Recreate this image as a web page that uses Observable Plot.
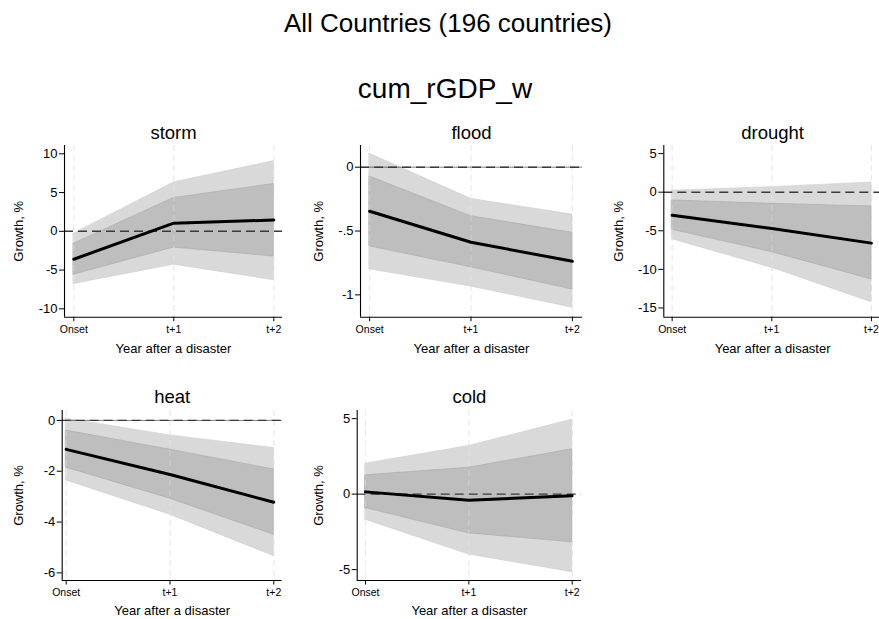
<!DOCTYPE html>
<html>
<head>
<meta charset="utf-8">
<script src="https://cdn.jsdelivr.net/npm/d3@7"></script>
<script src="https://cdn.jsdelivr.net/npm/@observablehq/plot@0.6"></script>
<style>
  html, body { margin: 0; padding: 0; background: #fff; }
  #page { position: relative; width: 879px; height: 619px; overflow: hidden; background: #fff;
          font-family: "Liberation Sans", Arial, Helvetica, sans-serif; color: #000; }
  .title { position: absolute; left: 0; text-align: center; line-height: 1; white-space: nowrap; }
  .panel { position: absolute; }
  .panel svg { max-width: none !important; display: block; }
  .panel g[aria-label="y-axis tick label"] { font-size: 13px; }
  .panel g[aria-label="x-axis tick label"] { font-size: 10.5px; }
</style>
</head>
<body>
<div id="page">
  <div class="title" style="top:10px; width:896px; font-size:26px;">All Countries (196 countries)</div>
  <div class="title" style="top:75px; width:890px; font-size:28px;">cum_rGDP_w</div>
</div>
<script>
// Horizon after the disaster
const periods = ["Onset", "t+1", "t+2"];

// Point estimates and confidence bands (growth, %), one set per hazard
const stormMean   = [-3.6, 1.05, 1.45];
const stormLoIn   = [-5.6, -2.1, -3.25];
const stormHiIn   = [-1.6, 4.3, 6.1];
const stormLoOut  = [-6.8, -4.3, -6.3];
const stormHiOut  = [-0.3, 6.3, 9.05];

const floodMean   = [-0.345, -0.588, -0.737];
const floodLoIn   = [-0.62, -0.784, -0.958];
const floodHiIn   = [-0.073, -0.384, -0.514];
const floodLoOut  = [-0.80, -0.935, -1.10];
const floodHiOut  = [0.105, -0.248, -0.371];

const droughtMean  = [-3.0, -4.7, -6.6];
const droughtLoIn  = [-4.87, -7.77, -11.3];
const droughtHiIn  = [-1.07, -1.5, -1.85];
const droughtLoOut = [-6.1, -9.8, -14.25];
const droughtHiOut = [0.2, 0.65, 1.26];

const heatMean    = [-1.14, -2.13, -3.22];
const heatLoIn    = [-1.86, -3.08, -4.5];
const heatHiIn    = [-0.4, -1.15, -1.93];
const heatLoOut   = [-2.36, -3.71, -5.34];
const heatHiOut   = [0.07, -0.59, -1.09];

const coldMean    = [0.15, -0.4, -0.11];
const coldLoIn    = [-0.92, -2.6, -3.19];
const coldHiIn    = [1.25, 1.75, 2.97];
const coldLoOut   = [-1.7, -4.0, -5.17];
const coldHiOut   = [2.02, 3.19, 4.93];

// Y-axis ticks per panel
const stormTicks   = [-10, -5, 0, 5, 10];
const floodTicks   = [-1, -0.5, 0];
const droughtTicks = [-15, -10, -5, 0, 5];
const heatTicks    = [-6, -4, -2, 0];
const coldTicks    = [-5, 0, 5];

const yTitle = "Growth, %";
const xTitle = "Year after a disaster";

function rows(mean, loIn, hiIn, loOut, hiOut) {
  return periods.map((p, i) => ({
    t: i, mean: mean[i], loIn: loIn[i], hiIn: hiIn[i], loOut: loOut[i], hiOut: hiOut[i]
  }));
}

// Stata-style number labels: "-.5" rather than "-0.5"
const fmt = d => String(d).replace(/^(-?)0\./, "$1.");

const panels = [
  {name: "storm", data: rows(stormMean, stormLoIn, stormHiIn, stormLoOut, stormHiOut), ticks: stormTicks,
   left: 0, top: 110, width: 290, height: 252, mt: 35, mb: 45.3, ml: 64, mr: 8,
   xd: [-0.093, 2.087], yd: [-11.08, 11.07], ytx: -46, solidZero: false},
  {name: "flood", data: rows(floodMean, floodLoIn, floodHiIn, floodLoOut, floodHiOut), ticks: floodTicks,
   left: 295, top: 110, width: 290, height: 252, mt: 35, mb: 45.3, ml: 65, mr: 3,
   xd: [-0.09, 2.10], yd: [-1.175, 0.17], ytx: -42, solidZero: true},
  {name: "drought", data: rows(droughtMean, droughtLoIn, droughtHiIn, droughtLoOut, droughtHiOut), ticks: droughtTicks,
   left: 590, top: 110, width: 300, height: 252, mt: 35, mb: 45.3, ml: 73.3, mr: 9.1,
   xd: [-0.084, 2.10], yd: [-16.2, 6.05], ytx: -45, solidZero: false},
  {name: "heat", data: rows(heatMean, heatLoIn, heatHiIn, heatLoOut, heatHiOut), ticks: heatTicks,
   left: 0, top: 375, width: 290, height: 244, mt: 35, mb: 39, ml: 61.7, mr: 8.4,
   xd: [-0.0385, 2.08], yd: [-6.3, 0.39], ytx: -43.4, solidZero: true},
  {name: "cold", data: rows(coldMean, coldLoIn, coldHiIn, coldLoOut, coldHiOut), ticks: coldTicks,
   left: 295, top: 375, width: 290, height: 244, mt: 35, mb: 39, ml: 61.7, mr: 4,
   xd: [-0.08, 2.09], yd: [-5.72, 5.54], ytx: -38.4, solidZero: false}
];

const page = document.getElementById("page");

for (const p of panels) {
  const bottomRow = p.top > 300;
  const chart = Plot.plot({
    width: p.width,
    height: p.height,
    marginTop: p.mt,
    marginBottom: p.mb,
    marginLeft: p.ml,
    marginRight: p.mr,
    style: {fontFamily: "Liberation Sans, Arial, Helvetica, sans-serif", fontSize: "13px", background: "transparent", overflow: "visible", color: "#000"},
    x: {type: "linear", domain: p.xd},
    y: {domain: p.yd},
    marks: [
      // dashed vertical guides at each horizon
      Plot.ruleX([0, 1, 2], {stroke: "#e4e4e4", strokeWidth: 1, strokeDasharray: "6,4"}),
      // outer and inner confidence bands
      Plot.areaY(p.data, {x: "t", y1: "loOut", y2: "hiOut", fill: "#d9d9d9", stroke: "#cdcdcd", strokeWidth: 0.6}),
      Plot.areaY(p.data, {x: "t", y1: "loIn", y2: "hiIn", fill: "#bebebe", stroke: "#aaaaaa", strokeWidth: 0.6}),
      Plot.ruleX([0, 1, 2], {stroke: "#f2f2f2", strokeOpacity: 0.35, strokeWidth: 1, strokeDasharray: "6,4"}),
      // zero reference
      p.solidZero ? Plot.ruleY([0], {stroke: "#000", strokeWidth: 0.7, strokeOpacity: 0.7}) : null,
      Plot.ruleY([0], {stroke: "#3a3a3a", strokeWidth: 1.4, strokeDasharray: "9,5"}),
      // point estimate
      Plot.line(p.data, {x: "t", y: "mean", stroke: "#000", strokeWidth: 3}),
      // axis lines
      Plot.ruleX([p.xd[0]], {stroke: "#000", strokeWidth: 1.1}),
      Plot.ruleY([p.yd[0]], {stroke: "#000", strokeWidth: 1.1}),
      Plot.axisY({ticks: p.ticks, tickFormat: fmt, tickSize: 5, tickPadding: 2, label: null, fontSize: 13}),
      Plot.axisX({ticks: [0, 1, 2], tickFormat: i => periods[i], tickSize: 4.5, tickPadding: 4, label: null, fontSize: 10.5}),
      // titles
      Plot.text([p.name], {frameAnchor: "top", dy: bottomRow ? -13.3 : -12.3, lineAnchor: "middle", textAnchor: "middle", fontSize: 18.5, fill: "#000"}),
      Plot.text([xTitle], {frameAnchor: "bottom", dy: bottomRow ? 30 : 31.3, lineAnchor: "middle", textAnchor: "middle", fontSize: 13, fill: "#000"}),
      Plot.text([yTitle], {frameAnchor: "left", dx: p.ytx, rotate: -90, lineAnchor: "middle", textAnchor: "middle", fontSize: 13, fill: "#000"})
    ].filter(Boolean)
  });
  const holder = document.createElement("div");
  holder.className = "panel";
  holder.style.left = p.left + "px";
  holder.style.top = p.top + "px";
  holder.style.width = p.width + "px";
  holder.style.height = p.height + "px";
  holder.appendChild(chart);
  page.appendChild(holder);
}
</script>
</body>
</html>
